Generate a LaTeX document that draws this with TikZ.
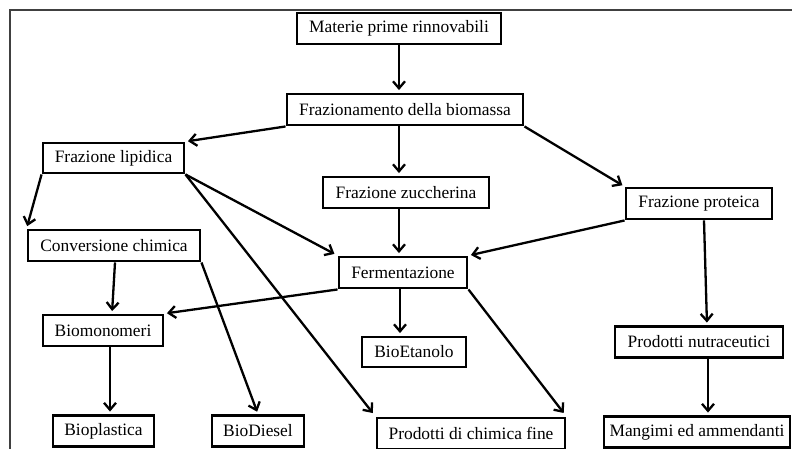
\documentclass[tikz,border=0pt]{standalone}
\usepackage{fontspec}
\setmainfont{Liberation Serif}
\usetikzlibrary{arrows.meta,calc}
\begin{document}
\begin{tikzpicture}[x=1pt,y=-1pt,
  bx/.style={draw=black,line width=2.9pt,fill=white,inner sep=0pt,minimum height=31pt,
    font=\fontsize{17.4}{20}\selectfont,text=black},
  arr/.style={line width=2.3pt,draw=black,shorten >=2.5pt,
    -{Straight Barb[length=7pt,width=12pt,line width=2.3pt]}},
  frame/.style={draw=black!75,line width=1.4pt}]
\useasboundingbox (0,0) rectangle (792,448);
\begin{scope}
\clip (0,0) rectangle (792,448);
\draw[frame] (10,470) -- (10,10) -- (810,10);
\end{scope}

\node[bx,minimum width=204pt] (mat) at (399,28.5) {Materie prime rinnovabili};
\node[bx,minimum width=236pt] (fraz) at (405,109.5) {Frazionamento della biomassa};
\node[bx,minimum width=141pt,minimum height=30pt] (lip) at (113.5,158) {Frazione lipidica};
\node[bx,minimum width=166pt] (zuc) at (406,192.5) {Frazione zuccherina};
\node[bx,minimum width=146pt] (prot) at (699,203.5) {Frazione proteica};
\node[bx,minimum width=172pt] (conv) at (114,245.5) {Conversione chimica};
\node[bx,minimum width=128pt] (ferm) at (403,272.5) {Fermentazione};
\node[bx,minimum width=120pt] (biom) at (103,330.5) {Biomonomeri};
\node[bx,minimum width=104pt,minimum height=30pt] (etan) at (414,352) {BioEtanolo};
\node[bx,minimum width=168pt] (nutr) at (699,342) {Prodotti nutraceutici};
\node[bx,minimum width=101pt] (bplast) at (103.5,431) {Bioplastica};
\node[bx,minimum width=92pt] (bdies) at (258,431) {BioDiesel};
\node[bx,minimum width=188pt] (chim) at (471,433.5) {Prodotti di chimica fine};
\node[bx,minimum width=186pt] (mang) at (697,432) {Mangimi ed ammendanti};

\coordinate (fe) at ($(ferm.south)+(-3,0)$);
\coordinate (bm) at ($(biom.south)+(7,0)$);

\draw[arr] (mat.south) -- (mat.south |- fraz.north);
\draw[arr] (fraz.south west) -- (lip.north east);
\draw[arr] (mat.south |- fraz.south) -- (mat.south |- zuc.north);
\draw[arr] (fraz.south east) -- (prot.north west);
\draw[arr] (lip.south west) -- (conv.north west);
\draw[arr,shorten >=3.5pt] (lip.south east) -- (ferm.north west);
\draw[arr,shorten >=4.5pt] (lip.south east) -- (chim.north west);
\draw[arr] (mat.south |- zuc.south) -- (mat.south |- ferm.north);
\draw[arr] (prot.south west) -- (ferm.north east);
\draw[arr] ($(prot.south)+(5,0)$) -- ($(nutr.north)+(8,0)$);
\draw[arr] ($(nutr.south)+(9,0)$) -- ($(mang.north)+(11,0)$);
\draw[arr] ($(conv.south)+(1,0)$) -- ($(biom.north)+(9,0)$);
\draw[arr] (ferm.south west) -- (biom.north east);
\draw[arr] (fe) -- (fe |- etan.north);
\draw[arr,shorten >=4.5pt] (ferm.south east) -- (chim.north east);
\draw[arr] (bm) -- (bm |- bplast.north);
\draw[arr] (conv.south east) -- (bdies.north);
\end{tikzpicture}
\end{document}
